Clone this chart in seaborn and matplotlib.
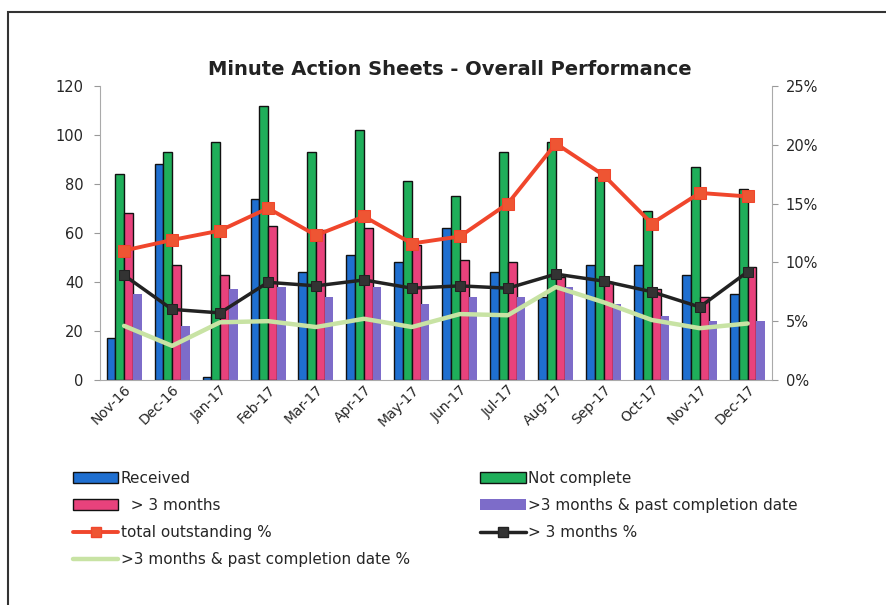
import numpy as np
import pandas as pd
import matplotlib
matplotlib.use("Agg")
import matplotlib.pyplot as plt
from matplotlib.patches import Patch, Rectangle
from matplotlib.lines import Line2D
import seaborn as sns

# Data
months = ["Nov-16", "Dec-16", "Jan-17", "Feb-17", "Mar-17", "Apr-17", "May-17",
          "Jun-17", "Jul-17", "Aug-17", "Sep-17", "Oct-17", "Nov-17", "Dec-17"]
received = [17, 88, 1, 74, 44, 51, 48, 62, 44, 34, 47, 47, 43, 35]
not_complete = [84, 93, 97, 112, 93, 102, 81, 75, 93, 97, 83, 69, 87, 78]
over_3m = [68, 47, 43, 63, 61, 62, 55, 49, 48, 42, 40, 37, 34, 46]
over_3m_past = [35, 22, 37, 38, 34, 38, 31, 34, 34, 38, 31, 26, 24, 24]

total_outstanding_pct = [11.0, 11.9, 12.7, 14.6, 12.3, 13.9, 11.6, 12.2, 15.0, 20.1, 17.4, 13.3, 15.9, 15.6]
over_3m_pct = [8.9, 6.0, 5.7, 8.3, 8.0, 8.5, 7.8, 8.0, 7.8, 9.0, 8.4, 7.5, 6.2, 9.2]
over_3m_past_pct = [4.6, 2.9, 4.9, 5.0, 4.5, 5.2, 4.5, 5.6, 5.5, 7.9, 6.6, 5.1, 4.4, 4.8]

bar_names = ["Received", "Not complete", "  > 3 months", ">3 months & past completion date"]
bar_colors = ["#1f6fd0", "#1fae5a", "#e8427c", "#7d6cc9"]

df = pd.DataFrame({
    "month": months,
    bar_names[0]: received,
    bar_names[1]: not_complete,
    bar_names[2]: over_3m,
    bar_names[3]: over_3m_past,
})
df_long = df.melt(id_vars="month", var_name="series", value_name="count")

sns.set_style("white")
plt.rcParams["font.family"] = ["DejaVu Sans"]

fig = plt.figure(figsize=(8.86, 6.05), dpi=100)
ax = fig.add_axes([0.113, 0.372, 0.758, 0.486])

sns.barplot(data=df_long, x="month", y="count", hue="series", order=months,
            hue_order=bar_names, palette=bar_colors, width=0.73,
            edgecolor="#111111", linewidth=1.0, saturation=1, ax=ax, legend=False)
# purple bars have no outline
for bar in ax.containers[3]:
    bar.set_edgecolor("none")

ax.set_ylim(0, 120)
ax.set_yticks(range(0, 121, 20))
ax.set_xlim(-0.5, len(months) - 0.5)
ax.set_xlabel("")
ax.set_ylabel("")
ax.tick_params(axis="y", labelsize=10.5, length=4, color="#999999", pad=8)
ax.tick_params(axis="x", labelsize=10, length=0, pad=2)
ax.set_xticks(range(len(months)))
ax.set_xticklabels(months, rotation=45, ha="right", rotation_mode="anchor")
for s in ["top", "right"]:
    ax.spines[s].set_visible(False)
for s in ["left", "bottom"]:
    ax.spines[s].set_color("#aaaaaa")

# category boundary ticks on x axis
ax.set_xticks(np.arange(-0.5, len(months), 1), minor=True)
ax.tick_params(axis="x", which="minor", length=4, color="#aaaaaa")

ax2 = ax.twinx()
x_idx = np.arange(len(months))
sns.lineplot(x=x_idx, y=over_3m_past_pct, ax=ax2, color="#c8e3a4", linewidth=3.2)
sns.lineplot(x=x_idx, y=over_3m_pct, ax=ax2, color="#222222", linewidth=2.5,
             marker="s", markersize=7.5, markerfacecolor="#333333", markeredgecolor="#222222")
sns.lineplot(x=x_idx, y=total_outstanding_pct, ax=ax2, color="#f0462c", linewidth=2.8,
             marker="s", markersize=8, markerfacecolor="#ee5533", markeredgecolor="#f0462c")
ax2.set_ylim(0, 25)
ax2.set_yticks(range(0, 26, 5))
ax2.set_yticklabels([f"{v}%" for v in range(0, 26, 5)])
ax2.tick_params(axis="y", labelsize=10.5, length=4, color="#999999", pad=6)
ax2.set_ylabel("")
ax2.set_xlim(-0.5, len(months) - 0.5)
for s in ["top", "left", "bottom"]:
    ax2.spines[s].set_visible(False)
ax2.spines["right"].set_color("#aaaaaa")

fig.text(0.508, 0.885, "Minute Action Sheets - Overall Performance",
         ha="center", va="center", fontsize=14, fontweight="bold", color="#222222")

# legend, laid out row by row like the original
h_received = Patch(facecolor=bar_colors[0], edgecolor="#111111")
h_notc = Patch(facecolor=bar_colors[1], edgecolor="#111111")
h_3m = Patch(facecolor=bar_colors[2], edgecolor="#111111")
h_3mp = Patch(facecolor=bar_colors[3], edgecolor="none")
h_tot = Line2D([], [], color="#f0462c", lw=2.8, marker="s", markersize=7, markerfacecolor="#ee5533")
h_3mpct = Line2D([], [], color="#222222", lw=2.5, marker="s", markersize=7, markerfacecolor="#333333")
h_3mppct = Line2D([], [], color="#c8e3a4", lw=3.2)

handles = [h_received, h_3m, h_tot, h_3mppct, h_notc, h_3mp, h_3mpct]
labels = ["Received", "  > 3 months", "total outstanding %", ">3 months & past completion date %",
          "Not complete", ">3 months & past completion date", "> 3 months %"]
fig.legend(handles, labels, ncol=2, loc="upper left", bbox_to_anchor=(0.082, 0.222),
           frameon=False, fontsize=11, handlelength=3.0, handletextpad=0.15,
           labelspacing=0.8, columnspacing=4.6, borderaxespad=0, borderpad=0)

# outer frame
fig.patches.append(Rectangle((0.009, -0.02), 1.05, 1.0, transform=fig.transFigure,
                             fill=False, linewidth=1.5, edgecolor="#333333"))

fig.savefig("out.png", dpi=100)
